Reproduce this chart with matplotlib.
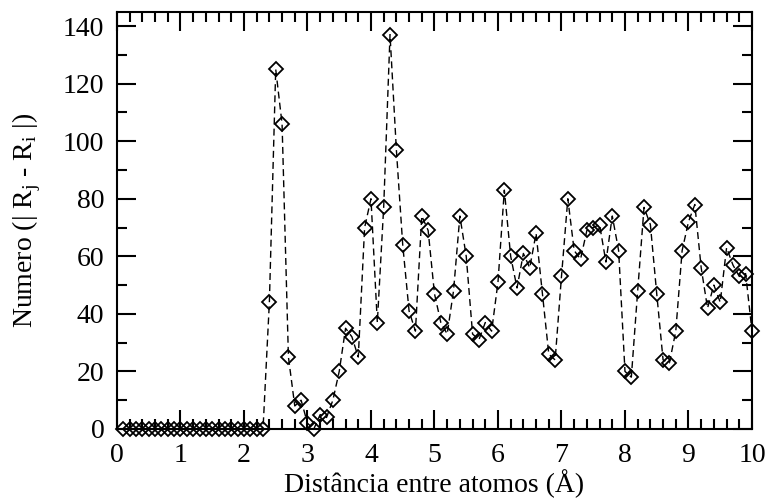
import numpy as np
import matplotlib
matplotlib.use("Agg")
import matplotlib.pyplot as plt
from matplotlib.ticker import MultipleLocator

# distancia (A) e numero de pares
dist = np.round(np.arange(1, 101) * 0.1, 1)
zeros = [0] * 23
numero = zeros + [
    44, 125, 106, 25, 8, 10, 2, 0, 5, 4,
    10, 20, 35, 32, 25, 70, 80, 37, 77, 137,
    97, 64, 41, 34, 74, 69, 47, 37, 33, 48,
    74, 60, 33, 31, 37, 34, 51, 83, 60, 49,
    61, 56, 68, 47, 26, 24, 53, 80, 62, 59,
    69, 70, 71, 58, 74, 62, 20, 18, 48, 77,
    71, 47, 24, 23, 34, 62, 72, 78, 56, 42,
    50, 44, 63, 57, 53, 54, 34,
]

plt.rcParams['font.family'] = ['Liberation Serif', 'DejaVu Serif']
plt.rcParams['mathtext.fontset'] = 'custom'
plt.rcParams['mathtext.rm'] = 'Liberation Serif'

fig = plt.figure(figsize=(7.66, 4.99), dpi=100)
ax = fig.add_axes([0.1527, 0.1403, 0.829, 0.8363])

ax.plot(dist, numero, color='black', lw=1.0, linestyle=(0, (5, 3)),
        marker='D', markersize=7.3, markerfacecolor='none',
        markeredgecolor='black', markeredgewidth=1.3, clip_on=False, zorder=3)

ax.set_xlim(0, 10)
ax.set_ylim(0, 145)
ax.xaxis.set_major_locator(MultipleLocator(1))
ax.xaxis.set_minor_locator(MultipleLocator(0.2))
ax.yaxis.set_major_locator(MultipleLocator(20))
ax.yaxis.set_minor_locator(MultipleLocator(10))

ax.tick_params(which='both', direction='in', top=True, right=True,
               width=1.5, labelsize=20)
ax.tick_params(axis='y', pad=9)
ax.tick_params(axis='x', pad=10)
ax.tick_params(which='major', length=14)
ax.tick_params(which='minor', length=7)
for s in ax.spines.values():
    s.set_linewidth(1.5)

ax.set_xlabel("Distância entre atomos (Å)", fontsize=20)
ax.set_ylabel(r"Numero (| R$_\mathregular{j}$ - R$_\mathregular{i}$ |)", fontsize=20)
ax.xaxis.set_label_coords(0.5, -0.097)
ax.yaxis.set_label_coords(-0.1165, 0.5)

fig.savefig("out.png", dpi=100)
